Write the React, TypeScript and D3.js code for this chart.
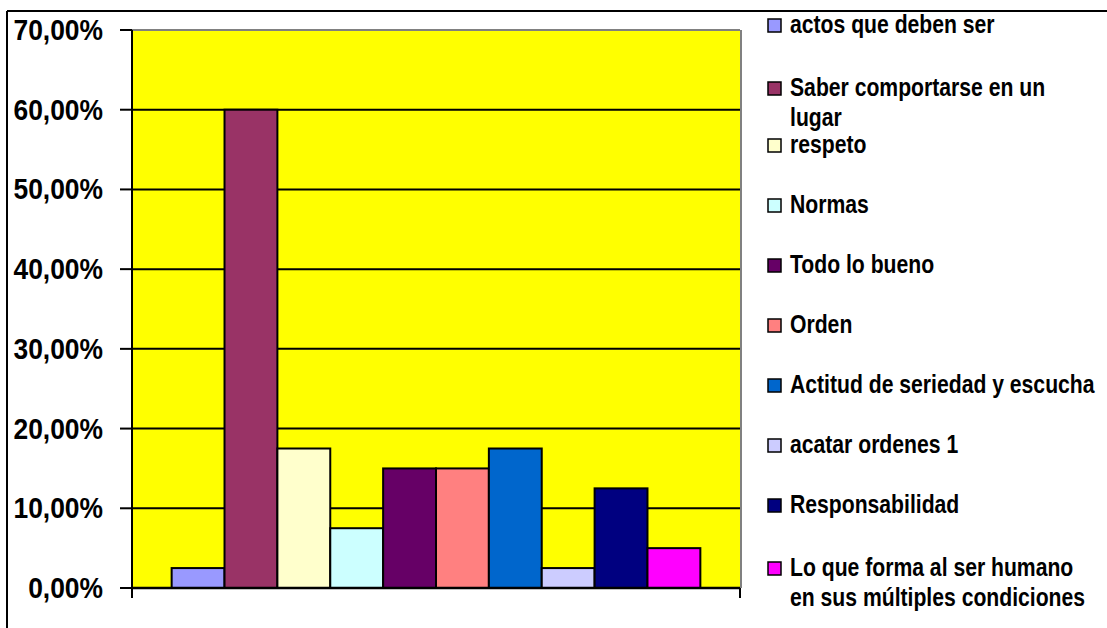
import React from "react";
import * as d3 from "d3";

const categories: string[] = [
  "actos que deben ser",
  "Saber comportarse en un lugar",
  "respeto",
  "Normas",
  "Todo lo bueno",
  "Orden",
  "Actitud de seriedad y escucha",
  "acatar ordenes 1",
  "Responsabilidad",
  "Lo que forma al ser humano en sus múltiples condiciones",
];
const legendLines: string[][] = [
  ["actos que deben ser"],
  ["Saber comportarse en un", "lugar"],
  ["respeto"],
  ["Normas"],
  ["Todo lo bueno"],
  ["Orden"],
  ["Actitud de seriedad y escucha"],
  ["acatar ordenes 1"],
  ["Responsabilidad"],
  ["Lo que forma al ser humano", "en sus múltiples condiciones"],
];
const values: number[] = [0.025, 0.6, 0.175, 0.075, 0.15, 0.15, 0.175, 0.025, 0.125, 0.05];
const colors: string[] = [
  "#9999FF", "#993366", "#FFFFCC", "#CCFFFF", "#660066",
  "#FF8080", "#0066CC", "#CCCCFF", "#000080", "#FF00FF",
];
const yTicks: number[] = [0, 0.1, 0.2, 0.3, 0.4, 0.5, 0.6, 0.7];

const W = 1107;
const H = 628;
const plot = { left: 132, right: 740, top: 30, bottom: 588 };
const FONT = "'Liberation Sans', Arial, sans-serif";

export default function App() {
  const y = d3.scaleLinear().domain([0, 0.7]).range([plot.bottom, plot.top]);
  // one category group with 150% gap width
  const groupW = plot.right - plot.left;
  const barW = groupW / (categories.length + 1.5);
  const x = d3
    .scaleBand<string>()
    .domain(categories)
    .range([plot.left + barW * 0.75, plot.right - barW * 0.75])
    .padding(0);
  const fmt = (v: number) => (v * 100).toFixed(2).replace(".", ",") + "%";

  return (
    <svg
      width={W}
      height={H}
      style={{ position: "absolute", left: 0, top: 0, background: "#fff" }}
      fontFamily={FONT}
    >
      {/* outer chart border */}
      <line x1={7} y1={11} x2={W} y2={11} stroke="#000" strokeWidth={2} />
      <line x1={7} y1={11} x2={7} y2={H} stroke="#000" strokeWidth={2} />

      {/* plot background */}
      <rect
        x={plot.left}
        y={plot.top}
        width={plot.right - plot.left}
        height={plot.bottom - plot.top}
        fill="#FFFF00"
      />
      {/* top and right border (grey) */}
      <line x1={plot.left} y1={plot.top} x2={plot.right} y2={plot.top} stroke="#808080" strokeWidth={2} />
      <line x1={plot.right + 1} y1={plot.top} x2={plot.right + 1} y2={plot.bottom} stroke="#808080" strokeWidth={2} />

      {/* gridlines */}
      {yTicks.slice(1, -1).map((t) => (
        <line key={"g" + t} x1={plot.left} x2={plot.right} y1={y(t)} y2={y(t)} stroke="#000" strokeWidth={2} />
      ))}

      {/* bars */}
      {categories.map((c, i) => (
        <rect
          key={c}
          x={x(c)}
          y={y(values[i])}
          width={x.bandwidth()}
          height={y(0) - y(values[i])}
          fill={colors[i]}
          stroke="#000"
          strokeWidth={2}
        />
      ))}

      {/* axes */}
      <line x1={plot.left} x2={plot.left} y1={plot.top} y2={plot.bottom + 10} stroke="#000" strokeWidth={2} />
      <line x1={plot.left} x2={plot.right} y1={plot.bottom} y2={plot.bottom} stroke="#000" strokeWidth={2.5} />
      <line x1={plot.right} x2={plot.right} y1={plot.bottom} y2={plot.bottom + 10} stroke="#000" strokeWidth={2} />
      {yTicks.map((t) => (
        <g key={"t" + t}>
          <line x1={plot.left - 12} x2={plot.left} y1={y(t)} y2={y(t)} stroke="#000" strokeWidth={2} />
          <text
            transform={`translate(103, ${y(t) + 10}) scale(0.88, 1)`}
            textAnchor="end"
            fontSize={30}
            fontWeight="bold"
            fill="#000"
          >
            {fmt(t)}
          </text>
        </g>
      ))}

      {/* legend */}
      {legendLines.map((lines, i) => {
        const base = 33 + i * 60 + (lines.length > 1 ? 3 : 0);
        return (
          <g key={"l" + i}>
            <rect x={768} y={base - 14} width={13} height={13} fill={colors[i]} stroke="#000" strokeWidth={1.5} />
            {lines.map((ln, j) => (
              <text
                key={j}
                transform={`translate(790, ${base + j * 30}) scale(0.83, 1)`}
                fontSize={25.5}
                fontWeight="bold"
                fill="#000"
              >
                {ln}
              </text>
            ))}
          </g>
        );
      })}
    </svg>
  );
}
